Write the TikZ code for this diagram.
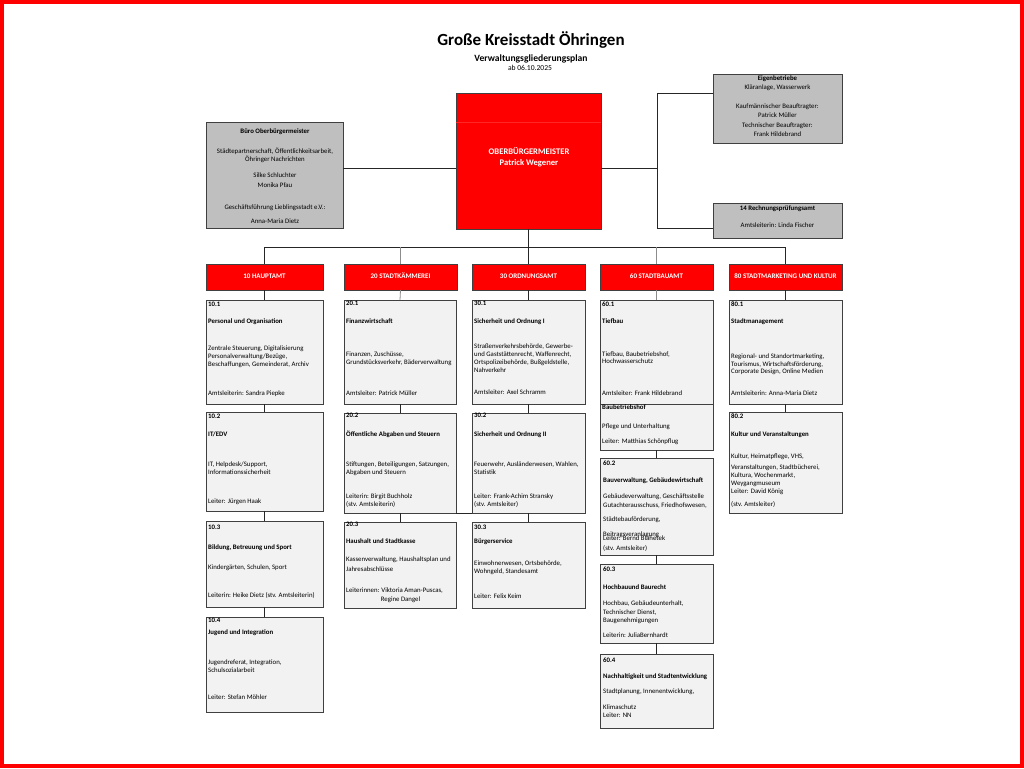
\documentclass[tikz,border=0pt]{standalone}
\usepackage{fontspec}
\setmainfont{Carlito}
\definecolor{boxfill}{HTML}{F2F2F2}
\definecolor{grayfill}{HTML}{BFBFBF}
\definecolor{boxline}{HTML}{404040}
\definecolor{hdrred}{HTML}{FF0000}
\newcommand\mytx[4]{\node[txt] (#1) at (#2,#3) {#4};}
\newcommand\mybx[4]{\node[btxt] (#1) at (#2,#3) {#4};}
\newcommand\myct[4]{\node[ctxt] (#1) at (#2,#3) {#4};}
\newcommand\mycb[4]{\node[cbtxt] (#1) at (#2,#3) {#4};}
\newcommand\mybox[6]{\node[#2, anchor=north west, minimum width=#5pt-#3pt, minimum height=#6pt-#4pt] (#1) at (#3,#4) {};}
\tikzset{
  card/.style={draw=boxline, fill=boxfill, line width=0.9pt, inner sep=0pt, outer sep=0pt},
  graycard/.style={draw=boxline, fill=grayfill, line width=0.9pt, inner sep=0pt, outer sep=0pt},
  hdr/.style={draw=boxline, fill=hdrred, line width=0.9pt, inner sep=0pt, outer sep=0pt},
  txtbase/.style={inner sep=0pt, text height=4.8pt, text depth=1.4pt},
  txt/.style={txtbase, anchor=west, font=\fontsize{6.8}{8}\selectfont},
  btxt/.style={txt, font=\bfseries\fontsize{6.8}{8}\selectfont},
  ctxt/.style={txtbase, font=\fontsize{6.8}{8}\selectfont},
  cbtxt/.style={ctxt, font=\bfseries\fontsize{6.8}{8}\selectfont},
  htxt/.style={inner sep=0pt, text height=5pt, text depth=1.5pt, text=white, font=\bfseries\fontsize{7}{8}\selectfont},
  conn/.style={draw=black!85, line width=0.8pt},
  gconn/.style={draw=black!45, line width=0.8pt}
}
\begin{document}
\begin{tikzpicture}[x=1pt,y=-1pt]
\useasboundingbox (0,0) rectangle (1024,768);
\fill[white] (0,0) rectangle (1024,768);
\draw[hdrred, line width=4pt] (2,2) rectangle (1022,766);

% titles
\node[inner sep=0pt, text height=11pt, text depth=3.5pt, font=\bfseries\fontsize{17}{20}\selectfont] (title) at (531,42) {Große Kreisstadt Öhringen};
\node[inner sep=0pt, text height=6pt, text depth=2pt, font=\bfseries\fontsize{9.6}{11}\selectfont] (subtitle) at (531,60) {Verwaltungsgliederungsplan};
\node[inner sep=0pt, text height=5pt, text depth=1.2pt, font=\fontsize{7.6}{9}\selectfont] (date) at (530,69) {ab 06.10.2025};

% top boxes
\mybox{buero}{graycard}{206}{122}{343}{228}
\mybox{obm}{hdr}{456}{93}{601}{229}
\mybox{eig}{graycard}{713}{74}{842}{143}
\mybox{rpa}{graycard}{713}{203}{842}{238}
\draw[red!85!white, line width=0.4pt] ([yshift=-29pt]obm.north west) -- ([yshift=-29pt]obm.north east);

\mycb{tb1}{275}{132}{Büro Oberbürgermeister}
\myct{tb2}{275}{152}{Städtepartnerschaft, Öffentlichkeitsarbeit,}
\myct{tb3}{275}{160}{Öhringer Nachrichten}
\myct{tb4}{275}{176}{Silke Schluchter}
\myct{tb5}{275}{186}{Monika Pfau}
\myct{tb6}{275}{208}{Geschäftsführung Lieblingsstadt e.V.:}
\myct{tb7}{275}{222}{Anna-Maria Dietz}

\node[inner sep=0pt, text height=5.5pt, text depth=1.8pt, text=white, font=\bfseries\fontsize{8.6}{10}\selectfont] (obm1) at (529,153) {OBERBÜRGERMEISTER};
\node[inner sep=0pt, text height=5.5pt, text depth=1.8pt, text=white, font=\bfseries\fontsize{8.6}{10}\selectfont] (obm2) at (529,164) {Patrick Wegener};

\mycb{te1}{777.5}{79}{Eigenbetriebe}
\myct{te2}{777.5}{88}{Kläranlage, Wasserwerk}
\myct{te3}{777.5}{107}{Kaufmännischer Beauftragter:}
\myct{te4}{777.5}{116}{Patrick Müller}
\myct{te5}{777.5}{126}{Technischer Beauftragter:}
\myct{te6}{777.5}{135}{Frank Hildebrand}

\mycb{tr1}{777.5}{209}{14 Rechnungsprüfungsamt}
\myct{tr2}{777.5}{226}{Amtsleiterin: Linda Fischer}

% top connectors
\coordinate (jr) at (657,168);
\coordinate (je) at (657,93);
\coordinate (jp) at (657,228);
\coordinate (bus) at (528.5,247);
\draw[conn] ([yshift=7pt]buero.east) -- ([yshift=7pt]buero.east -| obm.west);
\draw[conn] (jr -| obm.east) -- (jr);
\draw[conn] (je -| eig.west) -- (je) -- (jp) -- (jp -| rpa.west);

% headers
\mybox{h10}{hdr}{206}{264}{323}{290}
\mybox{h20}{hdr}{344}{264}{457}{290}
\mybox{h30}{hdr}{472}{264}{585}{290}
\mybox{h60}{hdr}{600}{264}{713}{290}
\mybox{h80}{hdr}{729}{264}{842}{290}
\node[htxt] (th10) at (h10) {10 HAUPTAMT};
\node[htxt] (th20) at (h20) {20 STADTKÄMMEREI};
\node[htxt] (th30) at (h30) {30 ORDNUNGSAMT};
\node[htxt] (th60) at (h60) {60 STADTBAUAMT};
\node[htxt] (th80) at (h80) {80 STADTMARKETING UND KULTUR};

\draw[conn] (obm.south) -- (bus);
\draw[conn] (h10.north |- bus) -- (h80.north |- bus);
\foreach \h in {h10,h30,h80} { \draw[conn] (\h.north) -- (\h.north |- bus); }
\foreach \h in {h20,h60} { \draw[gconn] (\h.north) -- (\h.north |- bus); }

% child boxes
\mybox{b101}{card}{206}{300}{323}{404}
\mybox{b102}{card}{206}{412}{323}{511}
\mybox{b103}{card}{206}{521}{323}{607}
\mybox{b104}{card}{206}{617}{323}{712}
\mybox{b201}{card}{344}{300}{456}{404}
\mybox{b202}{card}{344}{413}{456}{513}
\mybox{b203}{card}{344}{522}{456}{608}
\mybox{b301}{card}{472}{300}{585}{404}
\mybox{b302}{card}{472}{413}{585}{513}
\mybox{b303}{card}{472}{522}{585}{608}
\mybox{b601}{card}{600}{300}{713}{404}
\mybox{bbh}{card}{600}{404}{713}{450}
\mybox{b602}{card}{600}{458}{713}{555}
\mybox{b603}{card}{600}{564}{713}{643}
\mybox{b604}{card}{600}{654}{713}{728}
\mybox{b801}{card}{729}{300}{842}{404}
\mybox{b802}{card}{729}{412}{842}{513}

\draw[conn] (h10.south) -- (b101.north);
\draw[conn] (b101.south) -- (b102.north);
\draw[conn] (b102.south) -- (b103.north);
\draw[conn] (b103.south) -- (b104.north);
\draw[gconn] (h20.south) -- (b201.north);
\draw[conn] (b201.south) -- (b202.north);
\draw[conn] (b202.south) -- (b203.north);
\draw[conn] (h30.south) -- (b301.north);
\draw[conn] (b301.south) -- (b302.north);
\draw[conn] (b302.south) -- (b303.north);
\draw[conn] (b202.south east) -- (b302.south west);
\draw[gconn] (h60.south) -- (b601.north);
\draw[conn] (bbh.south) -- (b602.north);
\draw[conn] (b602.south) -- (b603.north);
\draw[conn] (b603.south) -- (b604.north);
\draw[conn] (h80.south) -- (b801.north);
\draw[conn] (b801.south) -- (b802.north);

% column 10
\mybx{t101a}{208}{305}{10.1}
\mybx{t101b}{208}{322}{Personal und Organisation}
\mytx{t101c}{208}{349}{Zentrale Steuerung, Digitalisierung}
\mytx{t101d}{208}{357}{Personalverwaltung/Bezüge,}
\mytx{t101e}{208}{365}{Beschaffungen, Gemeinderat, Archiv}
\mytx{t101f}{208}{394}{Amtsleiterin: Sandra Piepke}

\mybx{t102a}{208}{417}{10.2}
\mybx{t102b}{208}{435}{IT/EDV}
\mytx{t102c}{208}{465}{IT, Helpdesk/Support,}
\mytx{t102d}{208}{473}{Informationssicherheit}
\mytx{t102e}{208}{502}{Leiter: Jürgen Haak}

\mybx{t103a}{208}{528}{10.3}
\mybx{t103b}{208}{548}{Bildung, Betreuung und Sport}
\mytx{t103c}{208}{568}{Kindergärten, Schulen, Sport}
\mytx{t103d}{208}{596}{Leiterin: Heike Dietz (stv. Amtsleiterin)}

\mybx{t104a}{208}{621}{10.4}
\mybx{t104b}{208}{633}{Jugend und Integration}
\mytx{t104c}{208}{663}{Jugendreferat, Integration,}
\mytx{t104d}{208}{670.5}{Schulsozialarbeit}
\mytx{t104e}{208}{698}{Leiter: Stefan Möhler}

% column 20
\mybx{t201a}{346}{304}{20.1}
\mybx{t201b}{346}{322}{Finanzwirtschaft}
\mytx{t201c}{346}{355}{Finanzen, Zuschüsse,}
\mytx{t201d}{346}{363}{Grundstücksverkehr, Bäderverwaltung}
\mytx{t201e}{346}{394}{Amtsleiter: Patrick Müller}

\mybx{t202a}{346}{416}{20.2}
\mybx{t202b}{346}{435}{Öffentliche Abgaben und Steuern}
\mytx{t202c}{346}{465}{Stiftungen, Beteiligungen, Satzungen,}
\mytx{t202d}{346}{473}{Abgaben und Steuern}
\mytx{t202e}{346}{497}{Leiterin: Birgit Buchholz}
\mytx{t202f}{346}{505}{(stv. Amtsleiterin)}

\mybx{t203a}{346}{525}{20.3}
\mybx{t203b}{346}{542}{Haushalt und Stadtkasse}
\mytx{t203c}{346}{560}{Kassenverwaltung, Haushaltsplan und}
\mytx{t203d}{346}{570}{Jahresabschlüsse}
\mytx{t203e}{346}{591}{Leiterinnen: Viktoria Aman-Puscas,}
\myct{t203f}{400.5}{600}{Regine Dangel}

% column 30
\mybx{t301a}{474}{304}{30.1}
\mybx{t301b}{474}{322}{Sicherheit und Ordnung I}
\mytx{t301c}{474}{347}{Straßenverkehrsbehörde, Gewerbe-}
\mytx{t301d}{474}{355}{und Gaststättenrecht, Waffenrecht,}
\mytx{t301e}{474}{363}{Ortspolizeibehörde, Bußgeldstelle,}
\mytx{t301f}{474}{371}{Nahverkehr}
\mytx{t301g}{474}{393}{Amtsleiter: Axel Schramm}

\mybx{t302a}{474}{416}{30.2}
\mybx{t302b}{474}{435}{Sicherheit und Ordnung II}
\mytx{t302c}{474}{465}{Feuerwehr, Ausländerwesen, Wahlen,}
\mytx{t302d}{474}{473}{Statistik}
\mytx{t302e}{474}{497}{Leiter: Frank-Achim Stransky}
\mytx{t302f}{474}{505}{(stv. Amtsleiter)}

\mybx{t303a}{474}{528}{30.3}
\mybx{t303b}{474}{542}{Bürgerservice}
\mytx{t303c}{474}{564}{Einwohnerwesen, Ortsbehörde,}
\mytx{t303d}{474}{572}{Wohngeld, Standesamt}
\mytx{t303e}{474}{597}{Leiter: Felix Keim}

% column 60
\mybx{t601a}{602}{305}{60.1}
\mybx{t601b}{602}{322}{Tiefbau}
\mytx{t601c}{602}{355}{Tiefbau, Baubetriebshof,}
\mytx{t601d}{602}{362}{Hochwasserschutz}
\mytx{t601e}{602}{394}{Amtsleiter: Frank Hildebrand}

\mybx{tbh1}{602}{408}{Baubetriebshof}
\mytx{tbh2}{602}{427}{Pflege und Unterhaltung}
\mytx{tbh3}{602}{442}{Leiter: Matthias Schönpflug}

\mybx{t602a}{603}{464}{60.2}
\mybx{t602b}{603}{481}{Bauverwaltung, Gebäudewirtschaft}
\mytx{t602c}{603}{497}{Gebäudeverwaltung, Geschäftsstelle}
\mytx{t602d}{603}{506}{Gutachterausschuss, Friedhofswesen,}
\mytx{t602e}{603}{520}{Städtebauförderung,}
\mytx{t602f}{603}{535}{Beitragsveranlagung}
\mytx{t602g}{603}{538.5}{Leiter: Bernd Blahetek}
\mytx{t602h}{603}{549}{(stv. Amtsleiter)}

\mybx{t603a}{603}{570}{60.3}
\mybx{t603b}{603}{588}{Hochbauund Baurecht}
\mytx{t603c}{603}{604}{Hochbau, Gebäudeunterhalt,}
\mytx{t603d}{603}{613}{Technischer Dienst,}
\mytx{t603e}{603}{621}{Baugenehmigungen}
\mytx{t603f}{603}{636}{Leiterin: JuliaBernhardt}

\mybx{t604a}{603}{661}{60.4}
\mybx{t604b}{603}{677}{Nachhaltigkeit und Stadtentwicklung}
\mytx{t604c}{603}{692}{Stadtplanung, Innenentwicklung,}
\mytx{t604d}{603}{708}{Klimaschutz}
\mytx{t604e}{603}{716}{Leiter: NN}

% column 80
\mybx{t801a}{731}{305}{80.1}
\mybx{t801b}{731}{322}{Stadtmanagement}
\mytx{t801c}{731}{357}{Regional- und Standortmarketing,}
\mytx{t801d}{731}{364.5}{Tourismus, Wirtschaftsförderung,}
\mytx{t801e}{731}{372}{Corporate Design, Online Medien}
\mytx{t801f}{731}{394}{Amtsleiterin: Anna-Maria Dietz}

\mybx{t802a}{731}{417}{80.2}
\mybx{t802b}{731}{435}{Kultur und Veranstaltungen}
\mytx{t802c}{731}{457}{Kultur, Heimatpflege, VHS,}
\mytx{t802d}{731}{468}{Veranstaltungen, Stadtbücherei,}
\mytx{t802e}{731}{476}{Kultura, Wochenmarkt,}
\mytx{t802f}{731}{483.5}{Weygangmuseum}
\mytx{t802g}{731}{492}{Leiter: David König}
\mytx{t802h}{731}{505}{(stv. Amtsleiter)}
\end{tikzpicture}
\end{document}
